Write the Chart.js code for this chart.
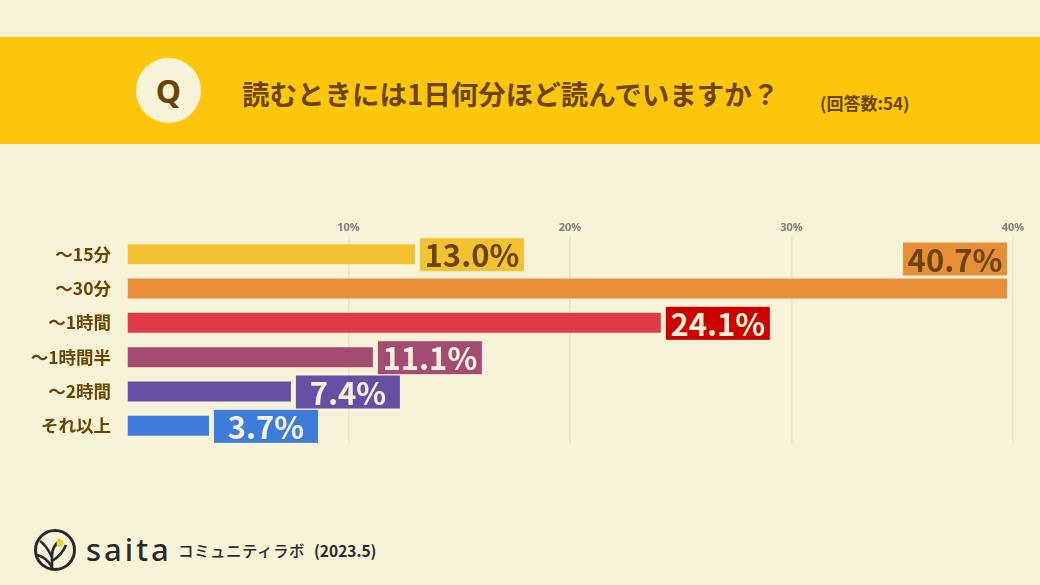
<!DOCTYPE html>
<html lang="ja">
<head>
<meta charset="utf-8">
<script src="https://cdn.jsdelivr.net/npm/chart.js@4.4.1/dist/chart.umd.min.js"></script>
<style>
  html,body{margin:0;padding:0;}
  body{width:1040px;height:585px;background:#F7F3D9;position:relative;overflow:hidden;font-family:"Noto Sans CJK JP","Noto Sans",sans-serif;}
  #band{position:absolute;left:0;top:37px;width:1040px;height:107px;background:#FFC60E;}
  #qcircle{position:absolute;left:136px;top:21px;width:65px;height:65px;border-radius:50%;background:#F7F3D9;color:#6B4400;font-weight:700;font-size:32px;line-height:65px;text-align:center;font-family:"Noto Sans","Noto Sans CJK JP",sans-serif;}
  #title{position:absolute;left:242px;top:36px;font-size:27.5px;font-weight:700;color:#6B4400;line-height:40px;white-space:nowrap;}
  #count{position:absolute;left:820px;top:54px;font-size:17px;font-weight:700;color:#6B4400;line-height:24px;white-space:nowrap;}
  #footer{position:absolute;left:0;top:525px;width:600px;height:50px;}
  #saita{position:absolute;left:86px;top:4px;font-family:"Noto Sans",sans-serif;font-size:31px;font-weight:500;letter-spacing:3px;color:#2A2A2A;line-height:40px;}
  #lab{position:absolute;left:178px;top:14px;font-size:15.5px;font-weight:500;color:#2A2A2A;line-height:22px;letter-spacing:0.5px;}
  #date{position:absolute;left:314px;top:14px;font-size:15.5px;font-weight:700;color:#2A2A2A;line-height:22px;}
  #wrap{position:absolute;left:0;top:0;width:1040px;height:585px;}
</style>
</head>
<body>
<div id="band">
  <div id="qcircle">Q</div>
  <div id="title">読むときには1日何分ほど読んでいますか？</div>
  <div id="count">(回答数:54)</div>
</div>
<div id="footer">
  <svg width="80" height="50" style="position:absolute;left:0;top:0">
    <circle cx="55" cy="25" r="19.5" fill="none" stroke="#2A2A2A" stroke-width="3"/>
    <path d="M52 44 L52 30 Q52 22 60 15" fill="none" stroke="#2A2A2A" stroke-width="2.6"/>
    <path d="M52 32 Q46 20 40 16" fill="none" stroke="#2A2A2A" stroke-width="2.6"/>
    <path d="M37 30 Q46 32 52 42" fill="none" stroke="#2A2A2A" stroke-width="2.6"/>
    <path d="M52 36 Q62 30 66 20" fill="none" stroke="#2A2A2A" stroke-width="2.6"/>
    <circle cx="60" cy="18" r="3.5" fill="#F5D020"/>
  </svg>
  <div id="saita">saita</div>
  <div id="lab">コミュニティラボ</div>
  <div id="date">(2023.5)</div>
</div>
<div id="wrap"><canvas id="c"></canvas></div>
<script>
const categories = ["〜15分", "〜30分", "〜1時間", "〜1時間半", "〜2時間", "それ以上"];
const values = [13.0, 40.7, 24.1, 11.1, 7.4, 3.7];
const tickValues = [10, 20, 30, 40];

const barColors   = ["#F2C232", "#E68F38", "#E03C48", "#A44B74", "#664EA4", "#3D7DD9"];
const labelBg     = ["#F2C232", "#E68F38", "#CC0000", "#A44B74", "#664EA4", "#3D7DD9"];
const labelText   = ["#6B4400", "#6B4400", "#F7F3D9", "#F7F3D9", "#F7F3D9", "#F7F3D9"];

const valueLabels = {
  id: 'valueLabels',
  afterDatasetsDraw(chart) {
    const {ctx, chartArea} = chart;
    const meta = chart.getDatasetMeta(0);
    const w = 104, h = 33;
    ctx.save();
    meta.data.forEach((bar, i) => {
      const end = Math.min(bar.x, chartArea.right - 6);
      let x0, y0;
      if (end + 5 + w > chart.width) {
        x0 = end - w;
        y0 = bar.y - bar.height / 2 - 3 - h;
      } else {
        x0 = bar.x + 5;
        y0 = bar.y - h / 2 + 0.5;
      }
      ctx.fillStyle = labelBg[i];
      ctx.fillRect(x0, y0, w, h);
      ctx.fillStyle = labelText[i];
      ctx.font = 'bold 31px "Noto Sans CJK JP", "Noto Sans", sans-serif';
      ctx.textAlign = 'center';
      ctx.textBaseline = 'middle';
      ctx.fillText(values[i].toFixed(1) + '%', x0 + w / 2, y0 + h / 2 + 1);
    });
    ctx.restore();
  }
};

new Chart(document.getElementById('c'), {
  type: 'bar',
  data: {
    labels: categories,
    datasets: [{
      data: values,
      backgroundColor: barColors,
      borderWidth: 0,
      categoryPercentage: 0.583,
      barPercentage: 1,
      clip: {left: 0, right: -6, top: false, bottom: false}
    }]
  },
  options: {
    indexAxis: 'y',
    responsive: true,
    maintainAspectRatio: false,
    animation: false,
    layout: {padding: {left: 0, right: 27, top: 217, bottom: 142}},
    plugins: {legend: {display: false}, tooltip: {enabled: false}},
    scales: {
      x: {
        position: 'top',
        min: 0,
        max: 40,
        afterFit(s) { s.height = 20; },
        afterBuildTicks(s) { s.ticks = [0].concat(tickValues).map(v => ({value: v})); },
        grid: {
          drawTicks: false,
          color: (c) => c.tick && c.tick.value === 0 ? 'rgba(0,0,0,0)' : '#E6E4D0',
          lineWidth: 1.5
        },
        border: {display: false},
        ticks: {
          padding: 3,
          color: '#7D7D7D',
          font: {family: '"Noto Sans", sans-serif', size: 11, weight: 'bold'},
          callback: (v) => v === 0 ? '' : v + '%'
        }
      },
      y: {
        afterFit(s) { s.width = 127; },
        grid: {display: false},
        border: {display: false},
        ticks: {
          padding: 8,
          color: '#6B4400',
          font: {family: '"Noto Sans CJK JP", sans-serif', size: 17.5, weight: 'bold'}
        }
      }
    }
  },
  plugins: [valueLabels]
});
</script>
</body>
</html>
